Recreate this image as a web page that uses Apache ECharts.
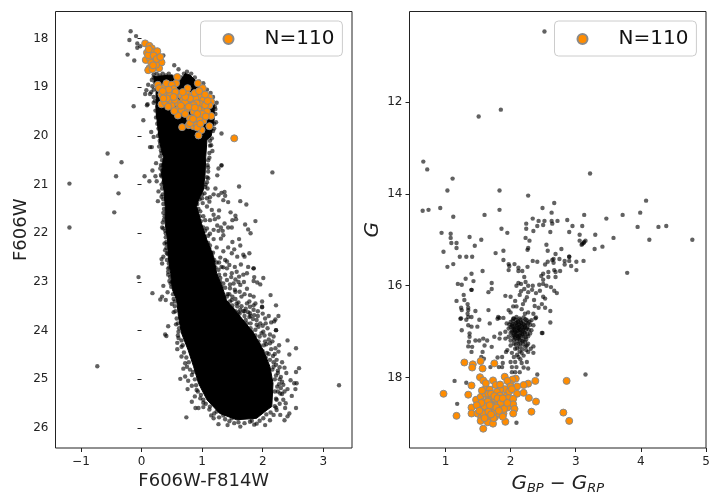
<!DOCTYPE html>
<html><head><meta charset="utf-8">
<style>html,body{margin:0;padding:0;background:#fff}#c{width:720px;height:504px}</style>
<script src="https://cdn.jsdelivr.net/npm/echarts@6/dist/echarts.min.js"></script>
</head><body><div id="c"></div>
<script>
const legendLabel = 'N=110';
const leftXLabel = 'F606W-F814W';
const leftYLabel = 'F606W';
const leftXTicks = [-1, 0, 1, 2, 3];
const leftYTicks = [18, 19, 20, 21, 22, 23, 24, 25, 26];
const rightXTicks = [1, 2, 3, 4, 5];
const rightYTicks = [12, 14, 16, 18];

// Outline of the saturated (fully black) part of the left sequence
const leftBody = [[.2,18.78],[.5,18.75],[.6,18.95],[.72,18.72],[.8,18.75],[1.0,19.0],[1.2,19.35],[1.2,19.65],[1.15,20.0],[1.08,20.08],[1.06,20.43],[1.05,20.77],[1.02,21.11],[.94,21.32],[.91,21.45],[.99,21.8],[1.08,22.14],[1.19,22.48],[1.24,22.82],[1.35,23.16],[1.4,23.37],[1.63,23.71],[1.85,24.05],[2.01,24.4],[2.12,24.74],[2.17,25.08],[2.15,25.56],[2.07,25.63],[1.9,25.8],[1.57,25.83],[1.29,25.7],[1.08,25.42],[.94,25.08],[.86,24.74],[.77,24.4],[.66,24.05],[.61,23.71],[.58,23.37],[.51,23.16],[.48,22.82],[.44,22.48],[.43,22.14],[.39,21.8],[.39,21.45],[.37,21.11],[.33,20.77],[.36,20.43],[.33,20.3],[.29,20.05],[.24,19.5],[.24,19.09]];

const leftStars = [[-.18,17.85],[-.2,18.03],[-.09,17.95],[-.07,18.1],[-.02,18.16],[-.07,18.19],[-.23,18.33],[-.12,18.45],[.36,18.35],[.54,18.55],[.61,18.63],[.11,18.95],[.08,19.06],[.06,19.14],[.14,19.14],[-.13,19.39],[.09,19.37],[.1,19.35],[.03,19.68],[.16,19.92],[.2,20.02],[.14,20.23],[.17,20.23],[1.32,19.95],[1.32,20.6],[1.17,20.31],[1.15,20.19],[1.21,19.4],[1.23,19.72],
[-.56,20.36],[-.33,20.54],[-1.19,20.98],[-.42,20.83],[-.38,21.18],[-.45,21.57],[-1.19,21.88],[.05,20.83],[.13,20.93],[.18,20.71],[.24,20.56],[.23,20.83],[.25,20.93],[.27,21.34],[.28,21.14],[.31,20.67],[.33,20.83],[-.05,22.9],[.36,23.08],[.18,23.23],[.43,23.21],[.31,23.36],[.34,23.3],[.4,23.37],[.5,23.45],[.36,21.9],[.34,21.88],[.38,22.21],[.42,22.22],[.33,22.53],[.36,22.48],[.34,22.62],[.42,22.41],[.44,22.79],[.44,22.85],[.48,23.03],
[2.16,20.75],[1.61,21.04],[1.32,20.61],[1.27,20.67],[1.25,20.81],[1.1,20.73],[1.1,20.87],[1.09,21.08],[1.22,21.08],[1.19,21.2],[1.32,21.17],[1.37,21.15],[1.38,21.23],[1.35,21.32],[1.43,21.36],[1.63,21.34],[1.73,21.41],[1.27,21.22],[1.13,21.26],[1.08,21.28],[1.12,21.35],[1.01,21.38],[1.08,21.45],[1.16,21.52],[1.28,21.53],[1.47,21.57],[1.55,21.64],[1.56,21.71],[1.5,21.73],[1.88,21.75],[1.71,21.82],[1.76,21.92],[1.8,22.0],[1.37,21.8],[1.43,21.88],[1.49,21.88],[1.27,21.67],[1.21,21.71],[1.13,21.73],[1.19,21.62],[1.05,21.73],[1.08,21.9],[1.19,21.93],[1.27,21.95],[1.34,21.95],[1.31,21.88],[1.25,21.84],[1.13,22.01],[1.19,22.12],[1.31,22.11],[1.35,22.04],[1.61,22.12],[1.63,22.25],[1.5,22.18],[1.43,22.29],[1.35,22.37],[1.24,22.29],[1.49,22.41],[1.53,22.33],[1.58,22.48],[1.68,22.44],[1.78,22.41],[1.7,22.48],[1.3,22.5],[1.41,22.58],[1.64,22.64],[1.76,22.69],[1.85,22.72],[1.85,22.72],[1.54,22.69],[1.41,22.72],[1.32,22.69],[1.49,22.82],[1.57,22.79],[1.74,22.82],[1.68,22.85],[1.61,22.89],[1.86,22.9],[2.01,22.92],[1.91,23.01],[1.96,23.05],[1.85,22.98],[1.69,23.0],[1.41,22.96],[1.52,23.03],[1.63,23.06],[1.35,23.03],[1.74,23.14],[1.79,23.27],[1.85,23.3],[2.13,23.27],[1.99,23.4],[2.22,23.48],[1.88,23.44],[1.99,23.52],[1.65,23.3],[1.54,23.16],[1.57,23.44],[1.41,23.3],[1.49,23.37],[1.74,23.44],[1.79,23.51],[1.46,23.13],
[-.73,24.73],[3.26,25.12],[.44,23.91],[.39,24.08],[.41,24.11],[.53,23.62],[.57,23.87],[.59,24.25],[.59,24.38],[.61,24.02],[.66,24.53],[.69,24.78],[.75,24.74],[.64,24.99],[.72,24.94],[.77,25.03],[.76,25.2],[.83,25.13],[.83,25.46],[.89,25.59],[.94,25.59],[.74,25.78],[1.02,25.57],[.88,25.35],[.97,25.39],[1.19,25.8],[1.15,25.74],[1.27,25.92],[1.42,25.94],[1.53,25.9],[1.63,25.97],[1.86,25.93],[1.9,25.91],[2.04,25.94],[2.12,25.84],[2.29,25.73],[2.36,25.84],[2.44,25.7],[2.41,25.76],[2.55,25.59],[2.37,25.59],[2.38,25.49],[2.54,25.2],[2.48,25.34],[2.41,25.2],[2.46,25.02],[2.52,25.08],[2.56,25.08],[2.32,25.05],[2.34,25.11],[2.25,24.87],[2.28,25.0],[2.39,24.87],[2.55,24.85],[2.6,24.77],[2.36,24.76],[2.32,24.65],[2.44,24.49],[2.55,24.36],[2.41,24.2],[2.27,24.3],[2.21,24.36],[2.26,24.43],[2.12,24.26],[2.12,24.08],[2.18,24.12],[2.22,23.99],[2.22,23.99],[2.19,23.81],[2.26,23.7],[2.21,23.77],[2.14,23.83],[2.04,23.75],[1.99,23.51],[1.93,23.92],[2.01,24.02],[1.9,23.78],[1.79,23.64],[1.85,23.57],[1.74,23.85],[1.63,23.57],[1.82,24.02],[1.93,24.22],[2.07,24.46],[2.23,24.6],[2.18,24.74],[2.29,25.29],[2.23,25.42],[2.34,25.42],[2.23,25.63],[2.18,25.73],[2.01,25.8],[1.79,25.87],[1.49,25.8],[1.35,25.74],[1.24,25.66],[1.13,25.56],[1.02,25.42],[.91,25.22],[.83,24.91],[.72,24.67],[.66,24.33],[.61,24.15],
[.3,19.3],[.27,19.6],[.31,19.8],[.3,20.1],[.32,20.3],[.35,20.6],[.36,20.95],[.36,21.3],[.38,21.65],[.4,22.0],[.41,22.3],[.46,22.7],[.5,23.0],[.55,23.4],[1.22,19.55],[1.2,19.85],[1.13,20.1],[1.12,20.45],[1.09,20.6],[1.08,20.95],[1.05,21.05],[1.0,21.2],[.97,21.55],[1.02,21.65],[1.05,21.95],[1.1,22.05],[1.13,22.25],[1.18,22.4],[1.24,22.6],[1.27,22.75],[1.3,23.0]];

// Stars crowding the edge of the saturated part
const leftEdgeStars = [[.2,18.8],[.17,18.85],[.22,18.9],[.18,18.98],[.2,19.05],[.16,19.1],[.2,19.2],[.22,19.28],[.2,19.32],[.26,19.4],[.23,19.48],[.27,19.55],[.24,19.62],[.29,19.7],[.26,19.75],[.28,19.85],[.3,19.95],[.27,20.0],[.31,20.15],[.29,20.22],[.33,20.35],[.31,20.42],[.34,20.5],[.32,20.6],[.34,20.72],[.32,20.8],[.33,21.0],[.34,21.08],[.35,21.2],[.33,21.25],[.36,21.4],[.37,21.5],[.36,21.58],[.37,21.72],[.35,21.78],[.39,21.95],[.4,22.08],[.41,22.18],[.39,22.35],[.43,22.42],[.42,22.55],[.45,22.62],[.44,22.72],[.47,22.9],[.46,22.98],[.49,23.1],[.52,23.25],[.53,23.35],[.55,23.5],[.56,23.6],[.58,23.75],[.6,23.85],[.62,23.95],[.6,24.1],[.66,24.2],[.68,24.3],[.7,24.45],[.74,24.55],[.78,24.65],[.8,24.8],[.85,24.85],[.88,25.0],[.9,25.12],[.93,25.25],[.98,25.32],[1.02,25.48],[1.06,25.5],[1.12,25.62],[1.2,25.7],[1.28,25.78],[1.38,25.82],[1.45,25.86],[1.6,25.88],[1.7,25.9],[1.82,25.85],[1.95,25.85],[2.06,25.72],[2.13,25.68],[2.2,25.55],
[2.22,25.4],[2.2,25.25],[2.24,25.15],[2.2,25.0],[2.22,24.92],[2.16,24.8],[2.18,24.65],[2.12,24.6],[2.1,24.48],[2.05,24.55],[2.02,24.3],[2.04,24.22],[1.95,24.12],[1.98,24.05],[1.88,23.98],[1.9,23.88],[1.8,23.85],[1.78,23.72],[1.7,23.7],[1.68,23.6],[1.6,23.62],[1.58,23.5],[1.5,23.48],[1.46,23.4],[1.42,23.25],[1.38,23.12],[1.32,23.1],[1.3,22.92],[1.28,22.85],[1.22,22.7],[1.2,22.55],[1.15,22.4],[1.12,22.32],[1.1,22.2],[1.04,22.08],[1.02,21.88],[.98,21.75],[.96,21.65],[.94,21.5],[.92,21.4],[.96,21.3],[1.0,21.28],[1.04,21.18],[1.06,21.0],[1.08,20.85],[1.1,20.65],[1.1,20.5],[1.12,20.35],[1.13,20.2],[1.16,20.05],[1.18,19.9],[1.2,19.75],[1.22,19.45],[1.24,19.32],[1.18,19.2],[1.14,19.12],[1.08,19.05],[1.02,18.92],[.95,18.88],[.88,18.8],[.82,18.72],[.75,18.68],[.7,18.72],[.66,18.8],[.62,18.85],[.2,18.74],[.25,18.72],[.3,18.76],[.35,18.72],[.4,18.76],[.45,18.72],[.5,18.78],
[1.45,23.25],[1.5,23.3],[1.55,23.35],[1.6,23.42],[1.65,23.5],[1.7,23.6],[1.72,23.55],[1.76,23.62],[1.8,23.7],[1.84,23.76],[1.86,23.68],[1.92,23.7],[1.96,23.85],[2.0,23.9],[2.05,23.85],[2.08,23.95],[2.03,24.1],[2.1,24.18],[2.06,24.28],[2.16,24.22],[2.14,24.38],[2.2,24.48],[2.17,24.52],[2.22,24.7],[2.28,24.75],[2.25,24.82],[2.3,24.95],[2.27,25.1],[2.3,25.18],[2.25,25.25],[2.32,25.3],[2.36,25.25],[2.28,25.5],[2.22,25.58],[1.4,23.45],[1.5,23.55],[1.55,23.6],[1.62,23.65],[1.72,23.78],[1.8,23.95],[1.88,24.1],[1.95,24.3],[2.0,24.42],[1.55,23.2],[1.62,23.2],[1.7,23.25],[1.78,23.4],[1.85,23.48],[1.92,23.6],[2.0,23.65],[2.1,23.7],[1.46,23.05],[1.55,22.95],[1.6,23.0],[1.48,22.9],[1.38,22.85],[1.35,22.7],[1.28,22.6],[1.38,22.55],[1.45,22.65]];

const leftOrange = [[.06,18.1],[.13,18.15],[.17,18.2],[.09,18.29],[.14,18.26],[.18,18.28],[.26,18.26],[.23,18.39],[.07,18.44],[.21,18.46],[.33,18.49],[.29,18.61],[.13,18.61],[.11,18.65],[.18,18.63],[.24,18.54],[.14,18.41],[.11,18.34],[.59,18.79],[.57,18.92],[.27,18.95],[.38,19.0],[.41,18.92],[.5,18.95],[.53,19.04],[.29,19.02],[.33,19.15],[.42,19.13],[.61,19.13],[.76,19.02],[.93,18.92],[1.01,19.02],[.76,19.15],[.47,19.16],[.66,19.17],[.83,19.17],[.97,19.21],[1.12,19.21],[1.15,19.3],[1.12,19.37],[.33,19.35],[.39,19.31],[.5,19.37],[.6,19.33],[.77,19.28],[.84,19.26],[.69,19.26],[.89,19.23],[1.02,19.26],[.98,19.35],[.91,19.33],[.47,19.26],[.55,19.26],[1.01,19.45],[.74,19.45],[.61,19.45],[.6,19.58],[.54,19.49],[.94,19.45],[.86,19.5],[1.15,19.59],[.97,19.57],[.8,19.64],[1.02,19.69],[.9,19.71],[.67,19.82],[.78,19.78],[.86,19.8],[.91,19.78],[1.12,19.8],[.99,19.88],[.94,19.99],[.8,19.74],[1.05,19.37],[1.09,19.28],[.66,19.47],[.86,19.37],[.42,19.23],[.36,19.23],[.95,19.64],[.92,19.83],[.72,19.3],[.8,19.23],[1.08,19.5],[1.53,20.05],[.12,18.22],[.2,18.35],[.16,18.5],[.25,18.42],[.19,18.55],[.31,18.38],[.45,19.05],[.35,19.08],[.56,19.1],[.72,19.2],[.88,19.12],[.95,19.08],[1.05,19.15],[.65,19.38],[.78,19.4],[.88,19.42],[1.0,19.55],[.92,19.55],[.72,19.55],[.85,19.65],[1.06,19.6],[.97,19.75],[.53,19.2],[.44,19.4],[.68,19.1]];

const rightStars = [[2.52,10.47],[1.51,12.32],[1.85,12.17],[.66,13.3],[.72,13.47],[3.22,13.56],
[1.11,13.67],[1.03,13.93],[1.83,13.93],[2.27,14.04],[2.67,14.2],[4.08,14.15],[2.49,14.31],[.65,14.37],[.74,14.35],[.92,14.31],[1.83,14.35],[1.12,14.5],[1.6,14.46],[2.63,14.41],[3.13,14.46],[3.72,14.46],[3.99,14.41],[3.47,14.54],[2.34,14.54],[2.43,14.59],[2.52,14.59],[2.63,14.59],[2.72,14.59],[2.87,14.57],[2.24,14.65],[2.41,14.7],[2.5,14.68],[2.64,14.65],[2.95,14.7],[3.1,14.7],[3.95,14.72],[4.27,14.72],[4.39,14.7],[2.24,14.76],[1.86,14.76],[1.95,14.85],[2.35,14.81],[2.61,14.83],[2.9,14.83],[.94,14.85],[1.08,14.87],[1.08,14.96],[1.37,14.94],[3.06,14.89],[3.3,14.89],[3.58,14.96],[1.55,15.0],[1.09,15.07],[1.17,15.07],[2.23,14.96],[2.29,15.02],[4.13,15.0],[4.79,15.0],[3.06,15.02],[3.1,15.09],[3.13,15.05],[3.15,15.02],[3.12,15.07],[3.09,15.11],[1.45,15.13],[1.17,15.18],[3.41,15.15],[3.29,15.2],[2.55,15.11],[2.27,15.18],[2.26,15.22],[2.57,15.24],[2.78,15.2],[.97,15.26],[1.77,15.29],[1.89,15.24],[2.69,15.31],[1.22,15.37],[1.32,15.37],[1.41,15.37],[2.9,15.37],[2.9,15.37],[2.66,15.42],[2.64,15.44],[2.75,15.42],[2.83,15.46],[2.9,15.46],[3.01,15.48],[3.12,15.46],[1.89,15.44],[2.34,15.46],[2.41,15.48],[2.57,15.48],[2.53,15.54],[1.97,15.53],[1.98,15.57],[2.06,15.53],[1.12,15.53],[1.03,15.59],[2.12,15.61],[2.26,15.59],[2.66,15.5],[2.83,15.54],[2.93,15.57],[3.79,15.72],[3.01,15.66],[2.76,15.68],[2.67,15.66],[2.58,15.7],[2.69,15.7],[1.97,15.66],[2.12,15.68],[2.18,15.68],[1.57,15.68],[2.5,15.74],[2.47,15.79],[2.69,15.81],[2.58,15.81],[1.4,15.74],[1.31,15.85],[1.43,15.9],[2.5,15.87],[2.21,15.81],[1.19,15.96],[1.25,15.98],[1.71,15.94],[1.71,16.07],[1.66,16.14],[1.4,16.09],[1.4,16.09],[2.12,15.94],[2.23,15.92],[2.09,16.0],[2.16,15.96],[2.27,16.0],[2.34,16.0],[2.44,15.98],[2.5,15.96],[2.55,16.0],[2.62,16.03],[2.67,16.11],[2.71,16.16],[2.21,16.07],[2.33,16.09],[2.27,16.14],[2.16,16.12],[2.14,16.2],[2.45,16.11],[2.39,16.16],[2.5,16.24],[2.53,16.28],[2.36,16.31],[2.25,16.25],[2.22,16.32],[1.92,16.22],[2.0,16.24],[2.07,16.33],[1.28,16.2],[1.29,16.31],[1.17,16.33],[1.34,16.4],[2.48,16.4],[2.19,16.4],[2.09,16.45],[2.04,16.45],[2.37,16.44],[2.53,16.48],[2.61,16.55],[2.43,16.48],[1.24,16.48],[1.35,16.48],[1.25,16.53],[1.35,16.53],[1.46,16.55],[1.66,16.53],[1.34,16.61],[1.4,16.68],[1.23,16.72],[1.32,16.74],[1.52,16.74],[1.8,16.72],[1.83,16.7],[1.89,16.7],[1.97,16.53],[2.0,16.58],[2.17,16.51],[2.22,16.61],[2.35,16.61],[2.27,16.58],[2.39,16.69],[2.04,16.72],
[1.94,16.82],[2.0,16.79],[2.05,16.71],[2.09,16.68],[2.14,16.71],[2.2,16.69],[2.25,16.75],[2.32,16.75],[2.38,16.71],[2.02,16.86],[2.07,16.82],[2.12,16.79],[2.17,16.82],[2.22,16.86],[2.27,16.82],[2.35,16.86],[1.97,16.93],[2.05,16.93],[2.09,16.89],[2.14,16.89],[2.2,16.93],[2.25,16.93],[2.32,16.97],[1.92,17.0],[2.02,17.0],[2.07,17.0],[2.12,16.97],[2.17,17.0],[2.22,17.04],[2.3,17.04],[2.48,17.03],[2.49,17.03],[2.61,16.8],[2.05,17.08],[2.09,17.08],[2.14,17.08],[2.2,17.11],[2.27,17.1],[1.97,17.11],[2.07,17.15],[2.12,17.15],[2.17,17.19],[2.0,17.19],[1.92,17.15],[2.27,17.26],[2.22,17.22],[2.05,17.26],[2.12,17.26],[2,17.3],[2.14,17.33],[2.25,17.3],[2.35,17.32],[2.31,17.37],[2.07,17.37],[1.95,17.4],[1.93,17.44],[2.35,17.46],[2.27,17.44],[2.17,17.46],[2.12,17.55],[2.05,17.55],[1.87,17.55],[1.8,17.56],[2.25,17.66],[2.17,17.68],[2.07,17.66],[2.0,17.66],[1.88,17.68],[1.87,17.77],[2.02,17.77],[2.09,17.77],[2.2,17.78],[2.27,17.8],[2.41,17.93],[2.14,17.88],[2.07,17.88],[2.02,17.88],[3.15,17.93],[1.14,18.07],[1.32,18.11],[1.18,18.57],[2.09,18.98],
[1.24,16.71],[1.25,16.97],[1.35,16.86],[1.4,16.89],[1.49,16.89],[1.35,16.68],[1.68,16.82],[1.37,17.11],[1.36,17.22],[1.35,17.32],[1.41,17.33],[1.46,17.19],[1.52,17.19],[1.58,17.15],[1.64,17.19],[1.6,17.3],[1.75,17.11],[1.83,17.15],[1.84,17.04],[1.4,17.44],[1.57,17.44],[1.55,17.55],[1.71,17.33],[1.81,16.68],[1.37,17.04],[1.69,17.77],[1.82,17.77],[1.59,17.59]];

// Extra stars of the crowded red clump on the right panel
const rightClump = [[2.03,16.76],[2.08,16.74],[2.11,16.77],[2.15,16.74],[2.19,16.77],[2.23,16.73],[2.29,16.78],[1.98,16.84],[2.04,16.83],[2.09,16.81],[2.13,16.84],[2.16,16.8],[2.2,16.84],[2.24,16.81],[2.3,16.85],[2.0,16.9],[2.03,16.88],[2.07,16.91],[2.1,16.86],[2.12,16.92],[2.16,16.87],[2.18,16.91],[2.22,16.89],[2.26,16.9],[2.03,16.96],[2.06,16.95],[2.1,16.98],[2.13,16.94],[2.15,16.97],[2.19,16.96],[2.23,16.97],[2.28,16.96],[2.0,17.03],[2.05,17.03],[2.08,17.02],[2.11,17.04],[2.15,17.03],[2.18,17.05],[2.21,17.02],[2.26,17.05],[2.03,17.1],[2.07,17.11],[2.11,17.1],[2.13,17.12],[2.17,17.09],[2.23,17.12],[2.05,17.18],[2.1,17.2],[2.14,17.17],[2.19,17.2],[2.24,17.17],[2.08,17.28],[2.15,17.25],[2.19,17.28],[2.23,17.32],[2.1,17.36],[2.18,17.38],[2.24,17.4],[2.14,17.43],[2.02,17.46],[2.1,17.5],[2.2,17.52],[2.15,17.6]];

const rightOrange = [[1.29,17.67],[1.42,17.71],[1.54,17.64],[1.75,17.69],[1.41,17.78],[1.57,17.8],[1.53,17.99],[1.58,18.06],[1.73,18.06],[1.91,17.98],[2.08,18.02],[2.03,18.04],[2.38,18.07],[2.86,18.07],[1.4,18.17],[1.77,18.16],[2.27,18.13],[2.2,18.16],[1.99,18.13],[1.95,18.07],[2.1,18.19],[2,18.19],[1.91,18.25],[1.62,18.23],[1.68,18.26],[.97,18.35],[1.35,18.37],[2.1,18.35],[2.2,18.33],[1.84,18.26],[1.79,18.31],[1.84,18.39],[1.94,18.39],[2.28,18.44],[2.39,18.52],[1.47,18.48],[1.54,18.42],[1.66,18.44],[1.71,18.44],[1.93,18.47],[1.97,18.44],[2.04,18.46],[1.61,18.35],[1.71,18.57],[1.79,18.57],[1.58,18.53],[2.04,18.58],[1.4,18.65],[1.54,18.68],[1.62,18.7],[1.71,18.68],[1.8,18.68],[1.95,18.65],[2.06,18.68],[2.32,18.74],[2.81,18.76],[1.4,18.78],[1.49,18.78],[1.68,18.83],[1.76,18.86],[1.89,18.78],[2.04,18.78],[1.17,18.83],[1.55,18.87],[1.54,18.94],[1.65,18.97],[1.73,19.0],[1.92,18.96],[2.9,18.94],[1.58,19.11],[1.81,18.78],[1.74,18.75],[1.58,18.78],[1.63,18.6],[1.86,18.6],[1.92,18.53],[1.66,18.35],[1.56,18.28],[1.76,18.46],[1.84,18.49],[1.7,18.35],[1.75,18.4],[1.8,18.45],[1.65,18.52],[1.72,18.62],[1.85,18.55],[1.78,18.65],[1.88,18.45],[1.98,18.3],[2.02,18.25],[1.6,18.62],[1.66,18.74],[1.74,18.88],[1.6,18.88],[1.55,18.55],[1.9,18.68],[1.82,18.72],[1.95,18.55],[1.68,18.6],[1.84,18.15],[1.62,18.12],[1.48,18.6],[1.52,18.72],[1.7,18.8],[1.88,18.85]];

const ink = '#222';
function axis(min, max, ticks, extra, labelExtra) {
  return Object.assign({
    type: 'value', min, max, scale: true,
    axisLine: {show: false},
    splitLine: {show: false},
    axisTick: {show: true, length: 4, lineStyle: {color: ink, width: 1}, customValues: ticks},
    axisLabel: Object.assign({show: true, color: ink, fontSize: 12, fontFamily: 'DejaVu Sans', margin: 7, customValues: ticks,
      formatter: v => String(v).replace('-', '\u2212')}, labelExtra),
    nameLocation: 'middle', nameMoveOverlap: false,
    nameTextStyle: {fontFamily: 'DejaVu Sans', fontSize: 18, color: ink}
  }, extra);
}
const xLabel = {margin: 8};
const yLabel = {padding: [2, 0, 0, 0]};
const mathRich = {
  i: {fontFamily: 'DejaVu Sans', fontStyle: 'italic', fontSize: 20, color: ink, lineHeight: 28, verticalAlign: 'middle'},
  s: {fontFamily: 'DejaVu Sans', fontStyle: 'italic', fontSize: 13, color: ink, lineHeight: 28, padding: [9, 0, 0, 0], verticalAlign: 'middle'},
  n: {fontFamily: 'DejaVu Sans', fontSize: 19, color: ink, lineHeight: 28, verticalAlign: 'middle'}
};
function legendFor(left) {
  return {
    show: true, left, top: 21, orient: 'horizontal', data: [legendLabel],
    itemWidth: 30, itemHeight: 10, itemGap: 0,
    padding: [7, 8, 6, 22],
    backgroundColor: '#fff', borderColor: '#ccc', borderWidth: 1, borderRadius: 4,
    selectedMode: false,
    textStyle: {fontFamily: 'DejaVu Sans', fontSize: 20, color: '#111', padding: [0, 0, 0, 16], lineHeight: 22}
  };
}
const stars = {symbol: 'circle', symbolSize: 4.4, itemStyle: {color: 'rgba(0,0,0,.62)', borderWidth: 0, opacity: 1}, silent: true, z: 3, animation: false};
const orange = {symbol: 'circle', symbolSize: 7, itemStyle: {color: '#ff8c00', borderColor: '#8a8a8a', borderWidth: 1, opacity: 1}, silent: true, z: 5, animation: false};

const chart = echarts.init(document.getElementById('c'), null, {renderer: 'canvas'});
chart.setOption({
  animation: false, backgroundColor: '#fff',
  grid: [
    {left: 55.5, top: 11.5, width: 296.5, height: 436.5, show: true, borderColor: ink, borderWidth: 1, backgroundColor: '#fff', containLabel: false, outerBoundsMode: 'none'},
    {left: 409.5, top: 11.5, width: 296.5, height: 436.5, show: true, borderColor: ink, borderWidth: 1, backgroundColor: '#fff', containLabel: false, outerBoundsMode: 'none'}
  ],
  legend: [legendFor(200.5), legendFor(554.5)],
  xAxis: [
    axis(-1.42, 3.474, leftXTicks, {gridIndex: 0, name: leftXLabel, nameGap: 24}, xLabel),
    axis(0.448, 5.0, rightXTicks, {gridIndex: 1, name: '{i|G}{s|BP}{n| \u2212 }{i|G}{s|RP}', nameGap: 22, nameTextStyle: {rich: mathRich}}, xLabel)
  ],
  yAxis: [
    axis(17.445, 26.41, leftYTicks, {gridIndex: 0, inverse: true, name: leftYLabel, nameGap: 25}, yLabel),
    axis(10.035, 19.53, rightYTicks, {gridIndex: 1, inverse: true, name: 'G', nameGap: 27, nameTextStyle: {fontFamily: 'DejaVu Sans', fontStyle: 'italic', fontSize: 20, color: ink}}, yLabel)
  ],
  series: [
    {type: 'custom', name: 'body', xAxisIndex: 0, yAxisIndex: 0, data: leftBody, encode: {x: 0, y: 1}, z: 2, silent: true,
      clip: true, animation: false,
      renderItem(params, api) {
        if (params.dataIndex !== 0) return null;
        return {type: 'polygon', shape: {points: leftBody.map(p => api.coord(p))}, style: {fill: '#000', stroke: '#000', lineWidth: 1}};
      }},
    Object.assign({type: 'scatter', name: 'stars', xAxisIndex: 0, yAxisIndex: 0, data: leftStars.concat(leftEdgeStars)}, stars),
    Object.assign({type: 'scatter', name: legendLabel, xAxisIndex: 0, yAxisIndex: 0, data: leftOrange}, orange),
    Object.assign({type: 'scatter', name: 'stars', xAxisIndex: 1, yAxisIndex: 1, data: rightStars.concat(rightClump)}, stars),
    Object.assign({type: 'scatter', name: legendLabel, xAxisIndex: 1, yAxisIndex: 1, data: rightOrange}, orange)
  ]
});
</script></body></html>
